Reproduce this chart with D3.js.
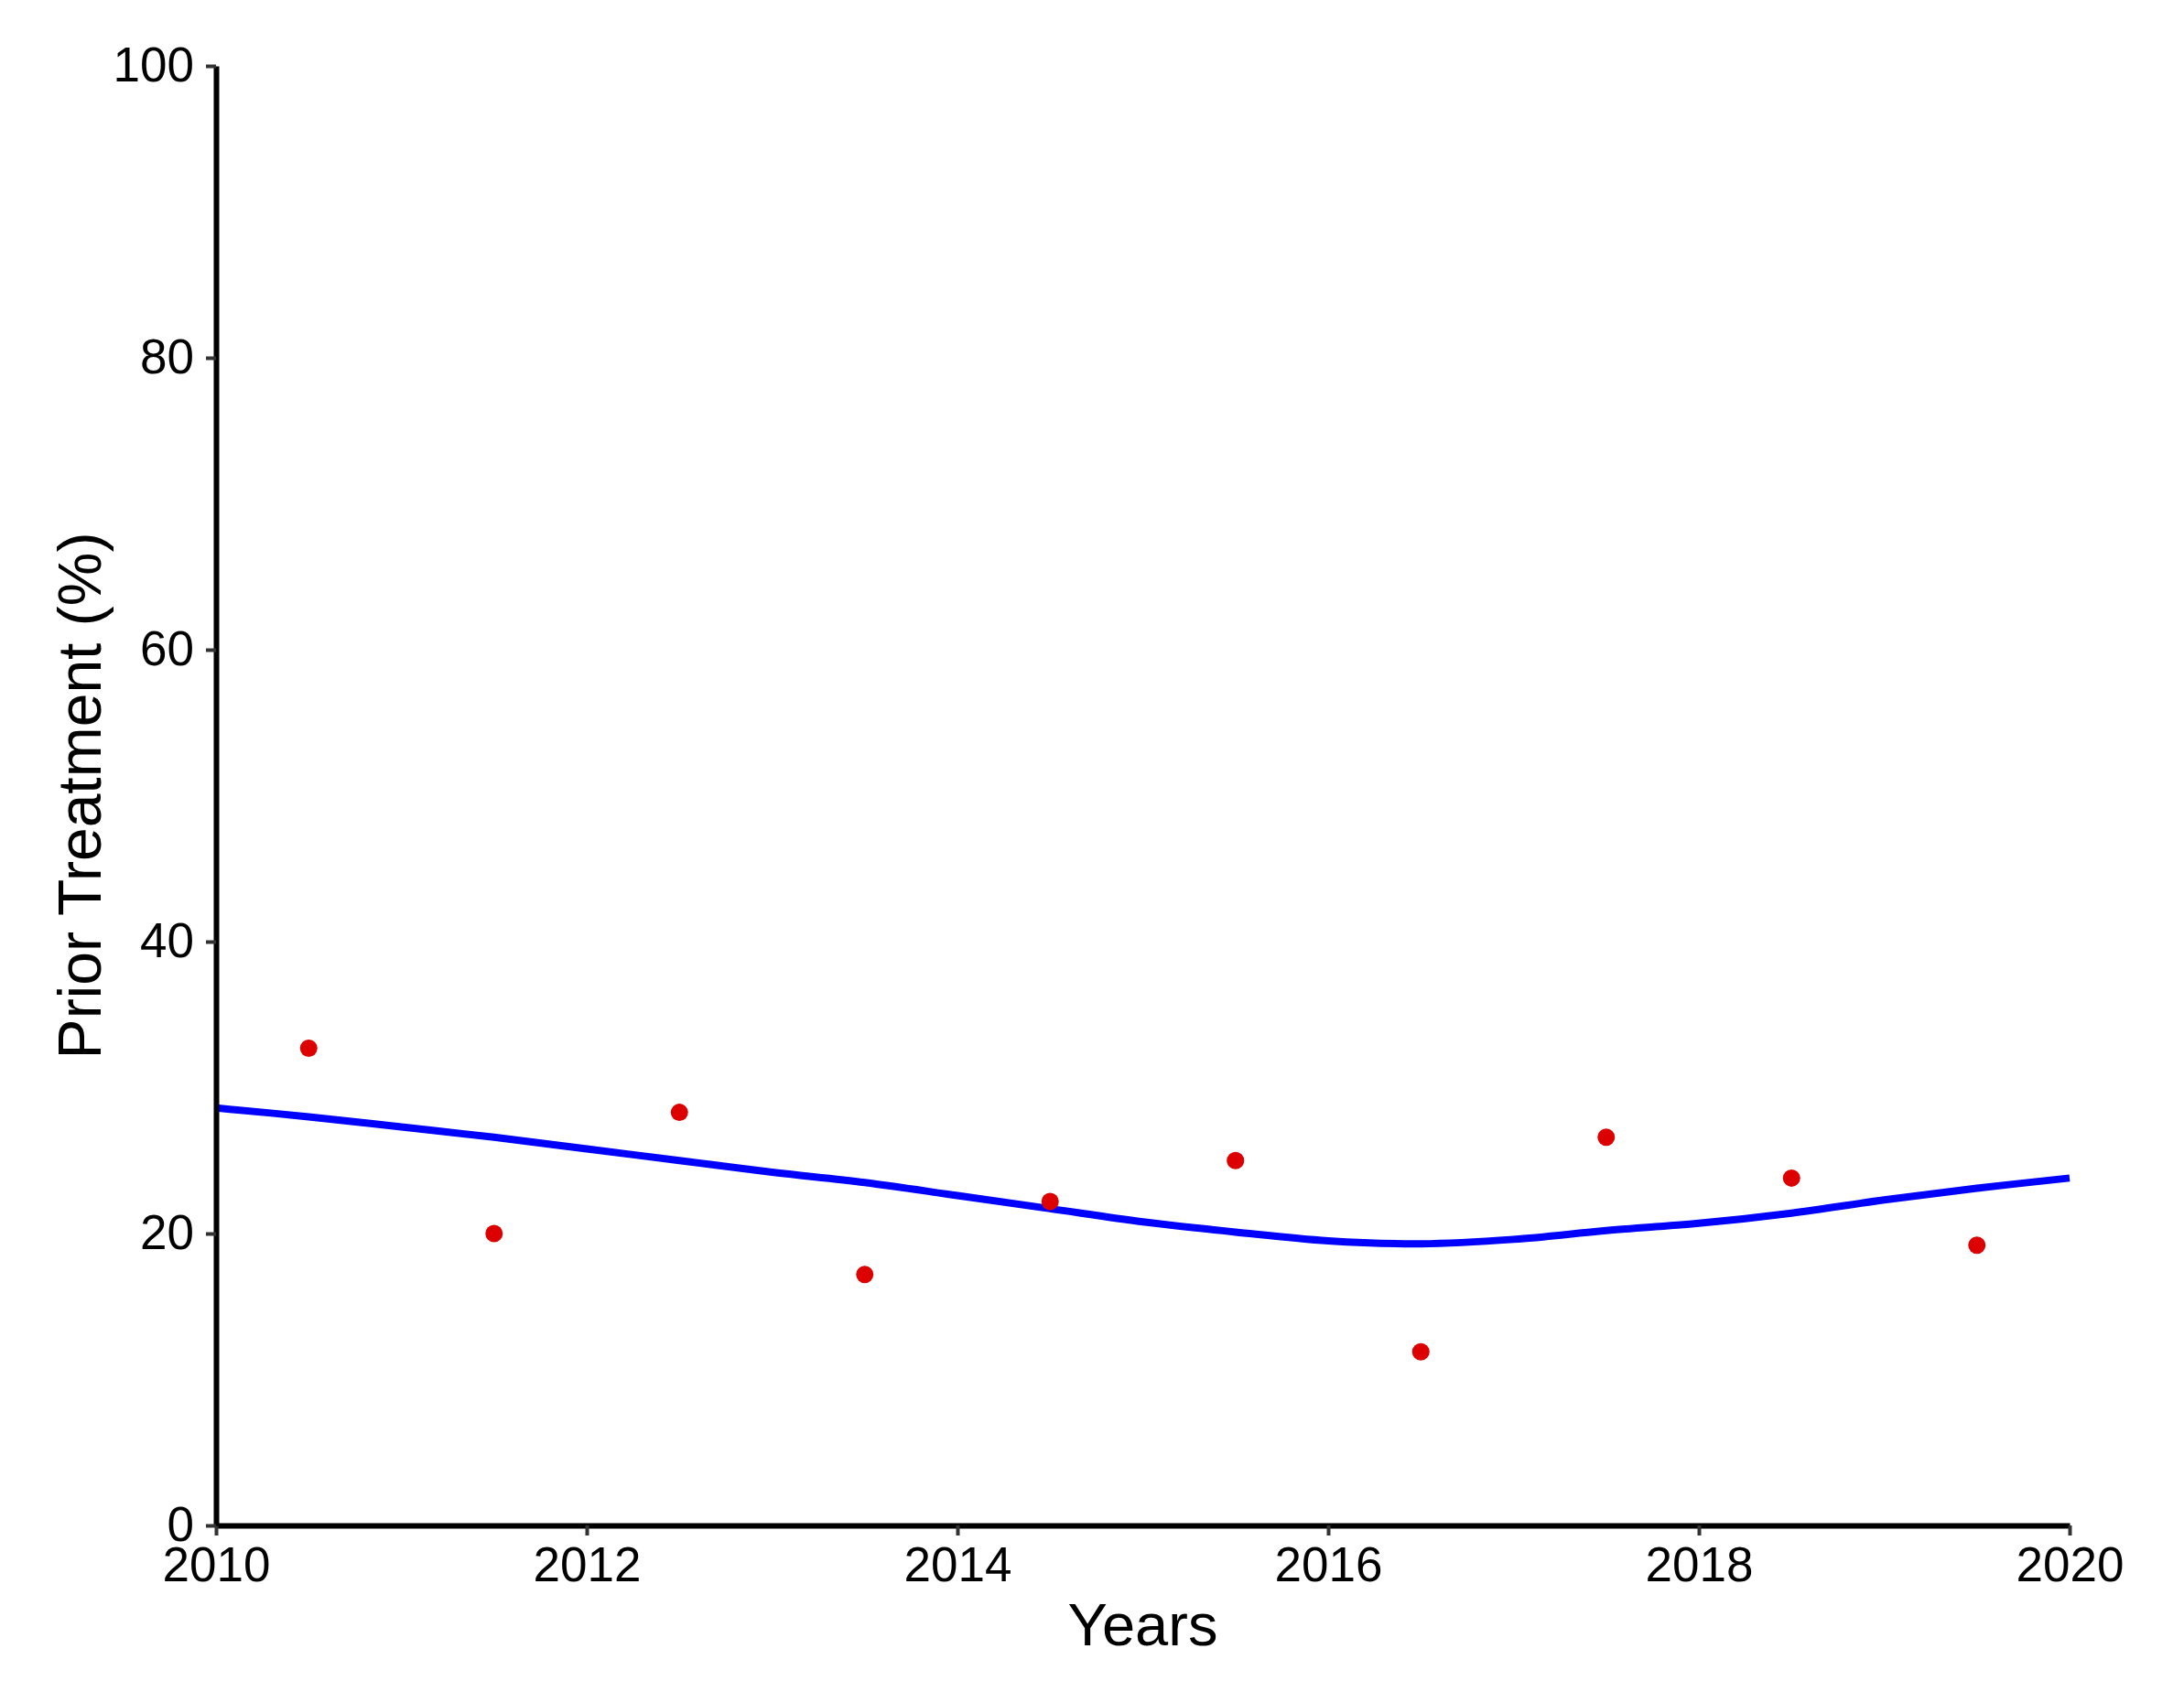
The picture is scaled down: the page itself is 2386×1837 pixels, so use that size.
<!DOCTYPE html>
<html>
<head>
<meta charset="utf-8">
<script src="https://cdn.jsdelivr.net/npm/d3@7"></script>
<style>
  html, body { margin: 0; padding: 0; background: #fff; }
  svg { display: block; }
</style>
</head>
<body>
<svg id="chart" width="2386" height="1837"></svg>
<script>
// Observed points (year mid-points, percent)
const pointYears = [2010.5, 2011.5, 2012.5, 2013.5, 2014.5, 2015.5, 2016.5, 2017.5, 2018.5, 2019.5];
const pointValues = [32.7, 20.0, 28.3, 17.2, 22.2, 25.0, 11.9, 26.6, 23.8, 19.2];

// Smoothed trend line
const trendYears = [2010, 2010.5, 2011, 2011.5, 2012, 2012.5, 2013, 2013.5, 2014, 2014.5, 2015, 2015.5, 2016, 2016.5, 2017, 2017.5, 2018, 2018.5, 2019, 2019.5, 2020];
const trendValues = [28.6, 28.0, 27.3, 26.6, 25.8, 25.0, 24.2, 23.5, 22.6, 21.7, 20.8, 20.1, 19.5, 19.3, 19.6, 20.2, 20.7, 21.4, 22.3, 23.1, 23.8];

const xTicks = [2010, 2012, 2014, 2016, 2018, 2020];
const yTicks = [0, 20, 40, 60, 80, 100];
const xTitle = "Years";
const yTitle = "Prior Treatment (%)";

const W = 2386, H = 1837;
const margin = { left: 236, right: 125, top: 72, bottom: 170 };
const FONT = "'Liberation Sans', Arial, Helvetica, sans-serif";

const svg = d3.select("#chart");
const x = d3.scaleLinear().domain([2010, 2020]).range([margin.left, W - margin.right]);
const y = d3.scaleLinear().domain([0, 100]).range([H - margin.bottom, margin.top]);

// Trend line
const line = d3.line()
  .x(d => x(d[0]))
  .y(d => y(d[1]))
  .curve(d3.curveCatmullRom.alpha(0.5));

svg.append("path")
  .datum(trendYears.map((yr, i) => [yr, trendValues[i]]))
  .attr("fill", "none")
  .attr("stroke", "#0000ff")
  .attr("stroke-width", 8)
  .attr("d", line);

// Points
svg.append("g").selectAll("circle")
  .data(pointYears.map((yr, i) => [yr, pointValues[i]]))
  .join("circle")
  .attr("cx", d => x(d[0]))
  .attr("cy", d => y(d[1]))
  .attr("r", 9.5)
  .attr("fill", "#dc0000");

// Axes
const xAxis = d3.axisBottom(x).tickValues(xTicks).tickFormat(d3.format("d"))
  .tickSize(11).tickSizeOuter(0).tickPadding(12);
const yAxis = d3.axisLeft(y).tickValues(yTicks).tickFormat(d3.format("d"))
  .tickSize(11).tickSizeOuter(0).tickPadding(13);

function styleAxis(g) {
  g.select(".domain").attr("stroke", "#000").attr("stroke-width", 6);
  g.selectAll(".tick line").attr("stroke", "#333").attr("stroke-width", 4);
  g.selectAll(".tick text").attr("fill", "#000")
    .style("font-family", FONT).style("font-size", "53px");
}

svg.append("g")
  .attr("transform", `translate(0,${H - margin.bottom})`)
  .call(xAxis).call(styleAxis);

svg.append("g")
  .attr("transform", `translate(${margin.left},0)`)
  .call(yAxis).call(styleAxis);

// Titles
svg.append("text")
  .attr("x", (margin.left + W - margin.right) / 2)
  .attr("y", 1798)
  .attr("text-anchor", "middle")
  .style("font-family", FONT)
  .style("font-size", "65px")
  .attr("fill", "#000")
  .text(xTitle);

svg.append("text")
  .attr("transform", `translate(${110},${(margin.top + H - margin.bottom) / 2}) rotate(-90)`)
  .attr("text-anchor", "middle")
  .style("font-family", FONT)
  .style("font-size", "66px")
  .attr("fill", "#000")
  .text(yTitle);
</script>
</body>
</html>
